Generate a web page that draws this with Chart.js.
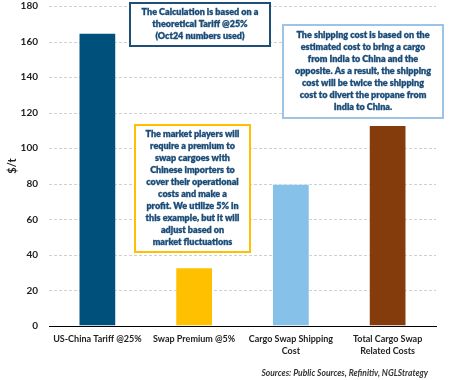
<!DOCTYPE html>
<html>
<head>
<meta charset="utf-8">
<script src="https://cdn.jsdelivr.net/npm/chart.js@4/dist/chart.umd.min.js"></script>
<style>
  html, body { margin: 0; padding: 0; background: #fff; }
  #wrap { width: 450px; height: 380px; position: relative; }
</style>
</head>
<body>
<div id="wrap"><canvas id="c" width="450" height="380"></canvas></div>
<script>
const categories = [
  ['US-China Tariff @25%'],
  ['Swap Premium @5%'],
  ['Cargo Swap Shipping', 'Cost'],
  ['Total Cargo Swap', 'Related Costs']
];
const values = [165, 33, 80, 113];
const barColors = ['#00507C', '#FFC000', '#85C1E9', '#843C0C'];
const yTicks = [0, 20, 40, 60, 80, 100, 120, 140, 160, 180];
const yTitle = '$/t';
const sourceText = 'Sources: Public Sources, Refinitiv, NGLStrategy';

const noteTexts = [
  ['The Calculation is based on a', 'theoretical Tariff @25%', '(Oct24 numbers used)'],
  ['The shipping cost is based on the', 'estimated cost to bring a cargo', 'from India to China and the', 'opposite. As a result, the shipping', 'cost will be twice the shipping', 'cost to divert the propane from', 'India to China.'],
  ['The market players will', 'require a premium to', 'swap cargoes with', 'Chinese importers to', 'cover their operational', 'costs and make a', 'profit. We utilize 5% in', 'this example, but it will', 'adjust based on', 'market fluctuations']
];
const noteBoxes = [
  { x1: 130, y1: 3, x2: 270, y2: 46, border: '#1F4E79' },
  { x1: 283, y1: 25, x2: 443, y2: 118, border: '#9DC3E6' },
  { x1: 135, y1: 125, x2: 250, y2: 252, border: '#FFC000' }
];

const FONT = 'Lato, "Open Sans", sans-serif';
const textColor = '#1B4C78';

const gridPlugin = {
  id: 'dashGrid',
  beforeDatasetsDraw(chart) {
    const ctx = chart.ctx, y = chart.scales.y, a = chart.chartArea;
    ctx.save();
    ctx.strokeStyle = '#D0D0D0';
    ctx.lineWidth = 1;
    ctx.setLineDash([3, 2]);
    y.ticks.forEach(t => {
      if (t.value === 0) return;
      const py = Math.round(y.getPixelForValue(t.value)) + 0.5;
      ctx.beginPath();
      ctx.moveTo(a.left, py);
      ctx.lineTo(a.right, py);
      ctx.stroke();
    });
    ctx.restore();
  }
};

const notesPlugin = {
  id: 'notes',
  afterDraw(chart) {
    const ctx = chart.ctx;
    ctx.save();
    noteBoxes.forEach((b, i) => {
      ctx.fillStyle = '#fff';
      ctx.fillRect(b.x1, b.y1, b.x2 - b.x1, b.y2 - b.y1);
      ctx.strokeStyle = b.border;
      ctx.lineWidth = 2;
      ctx.strokeRect(b.x1, b.y1, b.x2 - b.x1, b.y2 - b.y1);
      const lines = noteTexts[i];
      const lh = 12;
      const cx = (b.x1 + b.x2) / 2;
      const cy = (b.y1 + b.y2) / 2;
      ctx.font = '800 9px ' + FONT;
      ctx.fillStyle = textColor;
      ctx.strokeStyle = textColor;
      ctx.lineWidth = 0.3;
      ctx.textAlign = 'center';
      ctx.textBaseline = 'middle';
      lines.forEach((t, k) => {
        const ty = cy + (k - (lines.length - 1) / 2) * lh;
        ctx.fillText(t, cx, ty);
        ctx.strokeText(t, cx, ty);
      });
    });
    ctx.font = 'italic bold 8.5px ' + FONT;
    ctx.fillStyle = '#333';
    ctx.textAlign = 'right';
    ctx.textBaseline = 'middle';
    ctx.fillText(sourceText, 428, 373);
    ctx.restore();
  }
};

new Chart(document.getElementById('c'), {
  type: 'bar',
  data: {
    labels: categories,
    datasets: [{
      data: values,
      backgroundColor: barColors,
      borderColor: 'rgba(255,255,255,0.55)',
      borderWidth: { left: 1, right: 1, top: 1, bottom: 0 },
      barPercentage: 0.39,
      categoryPercentage: 1
    }]
  },
  options: {
    responsive: false,
    animation: false,
    devicePixelRatio: 1,
    layout: { padding: { left: 0, right: 14, top: 0, bottom: 0 } },
    plugins: { legend: { display: false }, tooltip: { enabled: false } },
    scales: {
      x: {
        grid: { display: false, drawTicks: false },
        border: { display: true, color: '#000', width: 1 },
        ticks: {
          color: '#222',
          font: { family: FONT, size: 9, weight: 'bold', lineHeight: 1.333 },
          padding: 7,
          maxRotation: 0,
          autoSkip: false
        },
        afterFit(s) { s.height = 54; }
      },
      y: {
        min: 0, max: 180,
        afterBuildTicks(s) { s.ticks = yTicks.map(v => ({ value: v })); },
        grid: { display: true, drawOnChartArea: false, drawTicks: true, tickLength: 11, tickColor: 'rgba(0,0,0,0)' },
        border: { display: false },
        ticks: {
          color: '#222',
          font: { family: FONT, size: 10, weight: 'bold' },
          padding: 0
        },
        title: {
          display: true,
          text: yTitle,
          color: '#222',
          font: { family: FONT, size: 11, weight: 'bold' },
          padding: { top: 6, bottom: 2 }
        },
        afterFit(s) { s.width = 49; }
      }
    }
  },
  plugins: [gridPlugin, notesPlugin]
});
</script>
</body>
</html>
